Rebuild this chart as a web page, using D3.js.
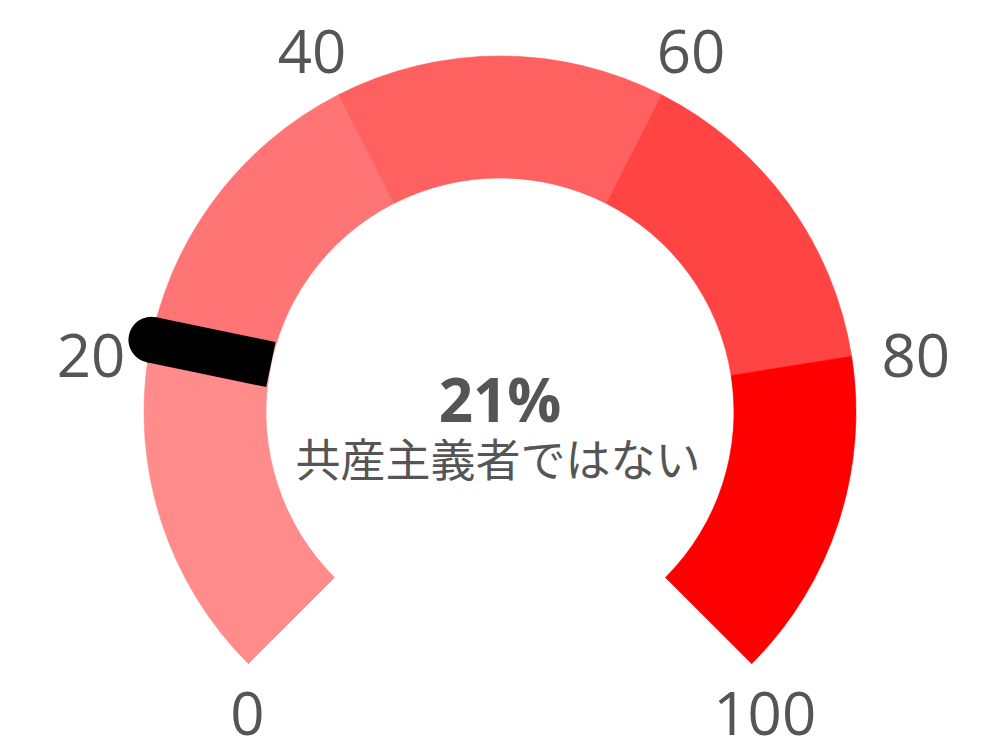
<!DOCTYPE html>
<html>
<head>
<meta charset="utf-8">
<script src="https://cdn.jsdelivr.net/npm/d3@7"></script>
<style>
  html, body { margin: 0; padding: 0; background: #fff; }
  svg { display: block; font-family: "Open Sans", "Noto Sans CJK JP", sans-serif; }
</style>
</head>
<body>
<div id="chart"></div>
<script>
// gauge data
var bandStops = [0, 20, 40, 60, 80, 100];
var bandColors = ["#FF8B8B", "#FF7575", "#FF6161", "#FF4444", "#FF0000"];
var tickValues = [0, 20, 40, 60, 80, 100];
var value = 21;
var valueLabel = "21%";
var caption = "共産主義者ではない";

var w = 1000, h = 753;
var cx = 500, cy = 412;
var rOuter = 356, rInner = 234;
var needleWidth = 46;
var textColor = "#555555";

var svg = d3.select("#chart")
  .append("svg")
  .attr("width", w)
  .attr("height", h);

var g = svg.append("g").attr("transform", "translate(" + cx + "," + cy + ")");

// 270 degree sweep, 0 at bottom left
var angle = d3.scaleLinear()
  .domain([0, 100])
  .range([-135 * Math.PI / 180, 135 * Math.PI / 180]);

var arc = d3.arc()
  .innerRadius(rInner)
  .outerRadius(rOuter);

var bands = d3.range(bandColors.length).map(function(i) {
  return { from: bandStops[i], to: bandStops[i + 1], color: bandColors[i] };
});

g.selectAll("path.band")
  .data(bands)
  .enter()
  .append("path")
  .attr("class", "band")
  .attr("d", function(d) {
    return arc({ startAngle: angle(d.from), endAngle: angle(d.to) });
  })
  .attr("fill", function(d) { return d.color; })
  .attr("stroke", function(d) { return d.color; })
  .attr("stroke-width", 0.6);

// tick labels round the outside
function labelPos(v) {
  var a = angle(v);
  var s = Math.sin(a);
  if (Math.abs(a) > Math.PI / 2) {
    // ends of the arc: put the label under the outer corner
    return [rOuter * s + (s > 0 ? 13 : -1), -rOuter * Math.cos(a) + 71];
  }
  var rl = 414;
  return [rl * s + (s > 0 ? 7 * s : 0), -rl * Math.cos(a) + 30];
}

g.selectAll("text.tick")
  .data(tickValues)
  .enter()
  .append("text")
  .attr("class", "tick")
  .attr("x", function(d) { return labelPos(d)[0]; })
  .attr("y", function(d) { return labelPos(d)[1]; })
  .attr("text-anchor", "middle")
  .attr("font-size", "60px")
  .attr("fill", textColor)
  .text(function(d) { return d; });

// needle: from the inner edge to the outer edge, round at the outside
var na = angle(value);
var ux = Math.sin(na), uy = -Math.cos(na);

g.append("line")
  .attr("x1", rInner * ux)
  .attr("y1", rInner * uy)
  .attr("x2", rOuter * ux)
  .attr("y2", rOuter * uy)
  .attr("stroke", "#000")
  .attr("stroke-width", needleWidth)
  .attr("stroke-linecap", "butt");

g.append("circle")
  .attr("cx", rOuter * ux)
  .attr("cy", rOuter * uy)
  .attr("r", needleWidth / 2)
  .attr("fill", "#000");

// centre text
g.append("text")
  .attr("x", 0)
  .attr("y", 10)
  .attr("text-anchor", "middle")
  .attr("font-size", "60px")
  .attr("font-weight", "bold")
  .attr("fill", textColor)
  .text(valueLabel);

g.append("text")
  .attr("x", -2)
  .attr("y", 65)
  .attr("text-anchor", "middle")
  .attr("font-size", "45px")
  .attr("font-family", "\"Noto Sans CJK JP\", \"Open Sans\", sans-serif")
  .attr("fill", textColor)
  .text(caption);
</script>
</body>
</html>
